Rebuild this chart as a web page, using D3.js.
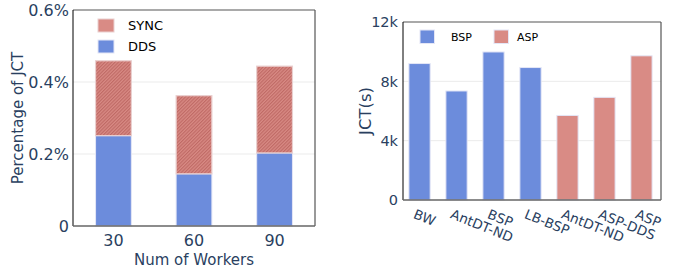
<!DOCTYPE html>
<html><head><meta charset="utf-8">
<script src="https://cdn.jsdelivr.net/npm/d3@7"></script>
<style>body{margin:0;background:#fff}svg{display:block}text{font-family:"DejaVu Sans",sans-serif}</style>
</head><body>
<svg id="c" width="674" height="272"></svg>
<script>
// Left chart data (percentage of JCT)
const workers = ["30", "60", "90"];
const ddsVals = [0.251, 0.145, 0.203];
const syncVals = [0.208, 0.217, 0.241];
const leftTicks = [0, 0.2, 0.4, 0.6];
const leftTickLabels = ["0", "0.2%", "0.4%", "0.6%"];

// Right chart data (JCT seconds)
const methods = ["BW", "AntDT-ND", "BSP", "LB-BSP", "AntDT-ND", "ASP-DDS", "ASP"];
const groups = ["BSP", "BSP", "BSP", "BSP", "ASP", "ASP", "ASP"];
const jctVals = [9200, 7350, 9980, 8930, 5700, 6920, 9720];
const rightTicks = [0, 4000, 8000, 12000];
const rightTickLabels = ["0", "4k", "8k", "12k"];

const BLUE = "#6c8cdc", RED = "#d98b85", TXT = "#2a3f5f";
const svg = d3.select("#c");
const defs = svg.append("defs");
const pat = defs.append("pattern").attr("id", "hatch").attr("patternUnits", "userSpaceOnUse")
  .attr("width", 2.4).attr("height", 2.4).attr("patternTransform", "rotate(45)");
pat.append("rect").attr("width", 2.4).attr("height", 2.4).attr("fill", "#d88a84");
pat.append("line").attr("x1", 0.6).attr("y1", 0).attr("x2", 0.6).attr("y2", 2.4)
  .attr("stroke", "#b9625e").attr("stroke-width", 0.9);

function frame(g, x0, x1, y0, y1) {
  g.append("line").attr("x1", x0).attr("x2", x1).attr("y1", y0).attr("y2", y0).attr("stroke", "#555").attr("stroke-width", 1.2);
  g.append("line").attr("x1", x1).attr("x2", x1).attr("y1", y0).attr("y2", y1).attr("stroke", "#555").attr("stroke-width", 1.2);
  g.append("line").attr("x1", x0).attr("x2", x0).attr("y1", y0).attr("y2", y1).attr("stroke", "#000").attr("stroke-width", 1);
  g.append("line").attr("x1", x0).attr("x2", x1).attr("y1", y1).attr("y2", y1).attr("stroke", "#666").attr("stroke-width", 1.6);
}

// ---------- Left ----------
{
  const x0 = 73, x1 = 315, y0 = 10, y1 = 226;
  const g = svg.append("g");
  const x = d3.scaleBand().domain(workers).range([x0, x1]).paddingInner(0.556).paddingOuter(0.28);
  const y = d3.scaleLinear().domain([0, 0.6]).range([y1, y0]);
  g.selectAll(".grid").data(leftTicks.slice(1, 3)).enter().append("line")
    .attr("x1", x0).attr("x2", x1).attr("y1", d => y(d)).attr("y2", d => y(d))
    .attr("stroke", "#ebebeb").attr("stroke-width", 1);
  g.selectAll(".dds").data(workers).enter().append("rect")
    .attr("x", d => x(d)).attr("width", x.bandwidth())
    .attr("y", (d, i) => y(ddsVals[i])).attr("height", (d, i) => y(0) - y(ddsVals[i]))
    .attr("fill", BLUE).attr("stroke", "#e4e6f6").attr("stroke-width", 1);
  g.selectAll(".sync").data(workers).enter().append("rect")
    .attr("x", d => x(d)).attr("width", x.bandwidth())
    .attr("y", (d, i) => y(ddsVals[i] + syncVals[i])).attr("height", (d, i) => y(ddsVals[i]) - y(ddsVals[i] + syncVals[i]))
    .attr("fill", "url(#hatch)").attr("stroke", "#ead0d0").attr("stroke-width", 1.2);
  frame(g, x0, x1, y0, y1);
  g.selectAll(".yt").data(leftTicks).enter().append("text")
    .attr("x", 69).attr("y", d => y(d)).attr("dy", "0.36em").attr("text-anchor", "end")
    .attr("fill", TXT).attr("font-size", 16).text((d, i) => leftTickLabels[i]);
  g.selectAll(".xt").data(workers).enter().append("text")
    .attr("x", d => x(d) + x.bandwidth() / 2).attr("y", 246).attr("text-anchor", "middle")
    .attr("fill", TXT).attr("font-size", 16).text(d => d);
  g.append("text").attr("x", (x0 + x1) / 2).attr("y", 265).attr("text-anchor", "middle")
    .attr("fill", TXT).attr("font-size", 15).text("Num of Workers");
  g.append("text").attr("transform", `translate(23,${(y0 + y1) / 2}) rotate(-90)`).attr("text-anchor", "middle")
    .attr("fill", TXT).attr("font-size", 15).text("Percentage of JCT");
  const leg = [["SYNC", RED, 19], ["DDS", BLUE, 40]];
  leg.forEach(([t, f, yy]) => {
    g.append("rect").attr("x", 98).attr("y", yy).attr("width", 16).attr("height", 13).attr("fill", f)
      .attr("stroke", f === BLUE ? "#e4e6f6" : "#ead0d0").attr("stroke-width", 1);
    g.append("text").attr("x", 128).attr("y", yy + 6.5).attr("dy", "0.36em").attr("font-size", 13).attr("fill", "#000").text(t);
  });
}

// ---------- Right ----------
{
  const x0 = 403, x1 = 661, y0 = 22, y1 = 200;
  const g = svg.append("g");
  const x = d3.scaleBand().domain(d3.range(methods.length)).range([401.5, 659.5]).paddingInner(0.425).paddingOuter(0.2);
  const y = d3.scaleLinear().domain([0, 12000]).range([y1, y0]);
  g.selectAll(".grid").data(rightTicks.slice(1, 3)).enter().append("line")
    .attr("x1", x0).attr("x2", x1).attr("y1", d => y(d)).attr("y2", d => y(d))
    .attr("stroke", "#ebebeb").attr("stroke-width", 1);
  g.selectAll(".bar").data(jctVals).enter().append("rect")
    .attr("x", (d, i) => x(i)).attr("width", x.bandwidth())
    .attr("y", d => y(d)).attr("height", d => y(0) - y(d))
    .attr("fill", (d, i) => groups[i] === "BSP" ? BLUE : RED)
    .attr("stroke", "#e4e6f6").attr("stroke-width", 1);
  frame(g, x0, x1, y0, y1);
  g.selectAll(".yt").data(rightTicks).enter().append("text")
    .attr("x", 398).attr("y", d => y(d)).attr("dy", "0.36em").attr("text-anchor", "end")
    .attr("fill", TXT).attr("font-size", 14.5).text((d, i) => rightTickLabels[i]);
  g.selectAll(".xt").data(methods).enter().append("text")
    .attr("transform", (d, i) => `translate(${x(i) + x.bandwidth() / 2 - 3},208) rotate(22)`)
    .attr("dy", "0.78em").attr("text-anchor", "start")
    .attr("fill", TXT).attr("font-size", 13.5).text(d => d);
  g.append("text").attr("transform", `translate(371,${(y0 + y1) / 2}) rotate(-90)`).attr("text-anchor", "middle")
    .attr("fill", TXT).attr("font-size", 16.5).text("JCT(s)");
  const leg = [["BSP", BLUE, 420, 451], ["ASP", RED, 494, 517]];
  leg.forEach(([t, f, xx, tx]) => {
    g.append("rect").attr("x", xx).attr("y", 30).attr("width", 14.5).attr("height", 13.5).attr("fill", f)
      .attr("stroke", "#e4e6f6").attr("stroke-width", 1);
    g.append("text").attr("x", tx).attr("y", 37).attr("dy", "0.36em").attr("font-size", 11).attr("fill", "#000").text(t);
  });
}
</script>
</body></html>
